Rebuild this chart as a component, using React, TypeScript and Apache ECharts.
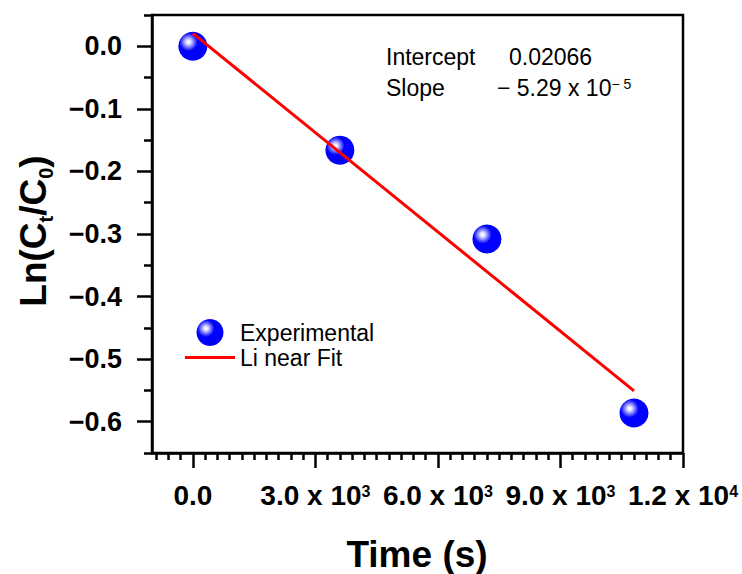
import React, { useEffect, useRef } from 'react';
import * as echarts from 'echarts';

// ---- data ----
const timeValues = [0, 3600, 7200, 10800];
const lnValues = [0.0, -0.166, -0.308, -0.586];
const fitTime = [0, 10800];
const fitLn = [0.0207, -0.5507];

const xMajorTicks = [0, 3000, 6000, 9000, 12000];
const xLabelMantissa = ['0.0', '3.0 x 10', '6.0 x 10', '9.0 x 10', '1.2 x 10'];
const xLabelExponent = ['', '3', '3', '3', '4'];
const yMajorTicks = [0, -0.1, -0.2, -0.3, -0.4, -0.5, -0.6];
const yTickLabels = ['0.0', '\u22120.1', '\u22120.2', '\u22120.3', '\u22120.4', '\u22120.5', '\u22120.6'];
const yMinorTicks = [0.05, -0.05, -0.15, -0.25, -0.35, -0.45, -0.55, -0.65];

const interceptText = '0.02066';
const slopeMantissa = '\u2212 5.29 x 10';
const slopeExponent = '\u2212 5';

const X_MIN = -1000;
const X_MAX = 12000;
const Y_MIN = -0.65;
const Y_MAX = 0.05;

function buildXMinor(): number[] {
  const out: number[] = [];
  for (let v = -900; v < X_MAX; v += 300) {
    if (v % 3000 !== 0) out.push(v);
  }
  return out;
}

export default function App() {
  const ref = useRef<HTMLDivElement>(null);

  useEffect(() => {
    if (!ref.current) return;
    const chart = echarts.init(ref.current, null, { renderer: 'svg' });
    const font = '"Liberation Sans", Arial, Helvetica, sans-serif';
    const tickLine = { color: '#000', width: 2.5 };

    const ball = new echarts.graphic.RadialGradient(0.35, 0.35, 0.6, [
      { offset: 0, color: '#ffffff' },
      { offset: 0.08, color: '#f4f4ff' },
      { offset: 0.2, color: '#b8b8ff' },
      { offset: 0.36, color: '#5a5aff' },
      { offset: 0.52, color: '#0000ff' },
      { offset: 1, color: '#0000ff' },
    ]);

    const xMinorTicks = buildXMinor();

    const option: any = {
      animation: false,
      grid: {
        left: 152,
        top: 15,
        right: 59,
        bottom: 121,
        show: true,
        borderColor: '#000',
        borderWidth: 2.5,
        containLabel: false,
        outerBoundsMode: 'none',
      },
      legend: {
        orient: 'vertical',
        left: 185,
        top: 319,
        padding: 0,
        itemWidth: 50,
        itemHeight: 27,
        itemGap: 0,
        textStyle: { fontSize: 23, fontFamily: font, color: '#000' },
        data: [
          { name: 'Experimental' },
          { name: 'Li near Fit', icon: 'path://M0,0 L50,0 L50,3 L0,3 Z' },
        ],
      },
      xAxis: [
        {
          type: 'value',
          min: X_MIN,
          max: X_MAX,
          position: 'bottom',
          splitLine: { show: false },
          axisLine: { show: true, onZero: false, lineStyle: tickLine },
          axisTick: { show: true, customValues: xMajorTicks, length: 15, lineStyle: tickLine },
          axisLabel: {
            customValues: xMajorTicks,
            margin: 30,
            fontSize: 28,
            fontWeight: 'bold',
            fontFamily: font,
            color: '#000',
            formatter: (value: number) => {
              const i = xMajorTicks.findIndex((t) => Math.abs(t - value) < 1e-6);
              if (i < 0) return '';
              const exp = xLabelExponent[i];
              return exp ? `{m|${xLabelMantissa[i]}}{e|${exp}}` : `{m|${xLabelMantissa[i]}}`;
            },
            rich: {
              m: { fontSize: 28, fontWeight: 'bold', fontFamily: font, color: '#000', lineHeight: 24 },
              e: { fontSize: 16, fontWeight: 'bold', fontFamily: font, color: '#000', lineHeight: 16, verticalAlign: 'top' },
            },
          },
        },
        {
          type: 'value',
          min: X_MIN,
          max: X_MAX,
          position: 'bottom',
          splitLine: { show: false },
          axisLine: { show: false, onZero: false },
          axisLabel: { show: false },
          axisTick: { show: true, customValues: xMinorTicks, length: 7, lineStyle: tickLine },
        },
      ],
      yAxis: [
        {
          type: 'value',
          min: Y_MIN,
          max: Y_MAX,
          position: 'left',
          splitLine: { show: false },
          axisLine: { show: true, onZero: false, lineStyle: tickLine },
          axisTick: { show: true, customValues: yMajorTicks, length: 15, lineStyle: tickLine },
          axisLabel: {
            customValues: yMajorTicks,
            margin: 30,
            fontSize: 27,
            fontWeight: 'bold',
            fontFamily: font,
            color: '#000',
            formatter: (value: number) => {
              const i = yMajorTicks.findIndex((t) => Math.abs(t - value) < 1e-6);
              return i < 0 ? '' : yTickLabels[i];
            },
          },
        },
        {
          type: 'value',
          min: Y_MIN,
          max: Y_MAX,
          position: 'left',
          splitLine: { show: false },
          axisLine: { show: false, onZero: false },
          axisLabel: { show: false },
          axisTick: { show: true, customValues: yMinorTicks, length: 8, lineStyle: tickLine },
        },
      ],
      series: [
        {
          name: 'Experimental',
          type: 'scatter',
          xAxisIndex: 0,
          yAxisIndex: 0,
          symbol: 'circle',
          symbolSize: 29,
          itemStyle: { color: ball, opacity: 1 },
          data: timeValues.map((t, i) => [t, lnValues[i]]),
          z: 2,
        },
        {
          name: 'Li near Fit',
          type: 'line',
          xAxisIndex: 0,
          yAxisIndex: 0,
          symbol: 'none',
          showSymbol: false,
          lineStyle: { color: '#ff0000', width: 3 },
          itemStyle: { color: '#ff0000' },
          data: fitTime.map((t, i) => [t, fitLn[i]]),
          z: 3,
        },
      ],
      graphic: [
        {
          type: 'text',
          x: 386,
          y: 57,
          style: { text: 'Intercept', fontSize: 23, fontFamily: font, fill: '#000', verticalAlign: 'middle', align: 'left' },
        },
        {
          type: 'text',
          x: 509,
          y: 57,
          style: { text: interceptText, fontSize: 23, fontFamily: font, fill: '#000', verticalAlign: 'middle', align: 'left' },
        },
        {
          type: 'text',
          x: 386,
          y: 88,
          style: { text: 'Slope', fontSize: 23, fontFamily: font, fill: '#000', verticalAlign: 'middle', align: 'left' },
        },
        {
          type: 'text',
          x: 497,
          y: 88,
          style: {
            text: `{a|${slopeMantissa}}{s|${slopeExponent}}`,
            verticalAlign: 'middle',
            align: 'left',
            rich: {
              a: { fontSize: 23, fontFamily: font, fill: '#000', lineHeight: 23 },
              s: { fontSize: 14, fontFamily: font, fill: '#000', lineHeight: 14, verticalAlign: 'top' },
            },
          },
        },
        {
          type: 'text',
          x: 33,
          y: 231,
          rotation: Math.PI / 2,
          style: {
            text: '{a|Ln(C}{b|t}{a|/C}{b|0}{a|)}',
            align: 'center',
            verticalAlign: 'middle',
            rich: {
              a: { fontSize: 37, fontWeight: 'bold', fontFamily: font, fill: '#000', lineHeight: 46 },
              b: { fontSize: 20, fontWeight: 'bold', fontFamily: font, fill: '#000', lineHeight: 20, verticalAlign: 'bottom' },
            },
          },
        },
        {
          type: 'text',
          x: 417,
          y: 554,
          style: {
            text: 'Time (s)',
            fontSize: 37,
            fontWeight: 'bold',
            fontFamily: font,
            fill: '#000',
            align: 'center',
            verticalAlign: 'middle',
          },
        },
      ],
    };

    chart.setOption(option);
    return () => chart.dispose();
  }, []);

  return <div ref={ref} style={{ width: 742, height: 574, position: 'absolute', left: 0, top: 0, background: '#fff' }} />;
}
